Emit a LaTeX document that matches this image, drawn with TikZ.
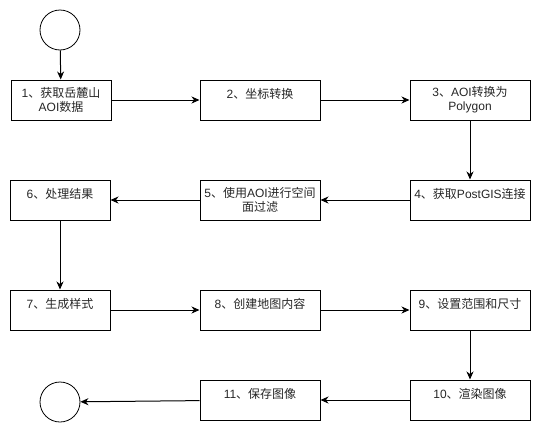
\documentclass[tikz,border=0pt]{standalone}
\usepackage{fontspec}
\setmainfont{Liberation Sans}
\newfontfamily\cjk{Noto Sans CJK SC}
\usetikzlibrary{arrows.meta}
\newcommand{\zh}[1]{{\cjk #1}}
\begin{document}
\begin{tikzpicture}[x=1pt,y=-1pt,
  every node/.style={font=\fontsize{12pt}{14pt}\selectfont, text=black!85},
  stepbox/.style={draw=black, line width=1pt, minimum height=40pt, inner sep=0pt, align=center},
  wide/.style={stepbox, minimum width=120pt},
  narrow/.style={stepbox, minimum width=100pt},
  term/.style={draw=black, line width=0.8pt, circle, minimum size=40pt, inner sep=0pt},
  arr/.style={draw=black, line width=1pt, -{Stealth[length=8pt,width=7pt,inset=2.5pt]}}
]
\useasboundingbox (0,0) rectangle (541,434);
\node[term] (start) at (60,30) {};
\node[narrow] (b1) at (61,100) {1\zh{、获取岳麓山}\\AOI\zh{数据}};
\node[wide] (b2) at (260,100) {2\zh{、坐标转换}\\[0pt]~};
\node[wide] (b3) at (470,100) {3\zh{、}AOI\zh{转换为}\\Polygon};
\node[wide] (b4) at (470,200) {4\zh{、获取}PostGIS\zh{连接}\\[0pt]~};
\node[wide] (b5) at (260,200) {5\zh{、使用}AOI\zh{进行空间}\\\zh{面过滤}};
\node[narrow] (b6) at (60,200) {6\zh{、处理结果}\\[0pt]~};
\node[narrow] (b7) at (60,310) {7\zh{、生成样式}\\[0pt]~};
\node[wide] (b8) at (260,310) {8\zh{、创建地图内容}\\[0pt]~};
\node[wide] (b9) at (470,310) {9\zh{、设置范围和尺寸}\\[0pt]~};
\node[wide] (b10) at (470,400) {10\zh{、渲染图像}\\[0pt]~};
\node[wide] (b11) at (260,400) {11\zh{、保存图像}\\[0pt]~};
\node[term] (end) at (60,402) {};
\draw[arr] (start) -- (b1);
\draw[arr] (b1) -- (b2);
\draw[arr] (b2) -- (b3);
\draw[arr] (b3) -- (b4);
\draw[arr] (b4) -- (b5);
\draw[arr] (b5) -- (b6);
\draw[arr] (b6) -- (b7);
\draw[arr] (b7) -- (b8);
\draw[arr] (b8) -- (b9);
\draw[arr] (b9) -- (b10);
\draw[arr] (b10) -- (b11);
\draw[arr] (b11) -- (end);
\end{tikzpicture}
\end{document}
